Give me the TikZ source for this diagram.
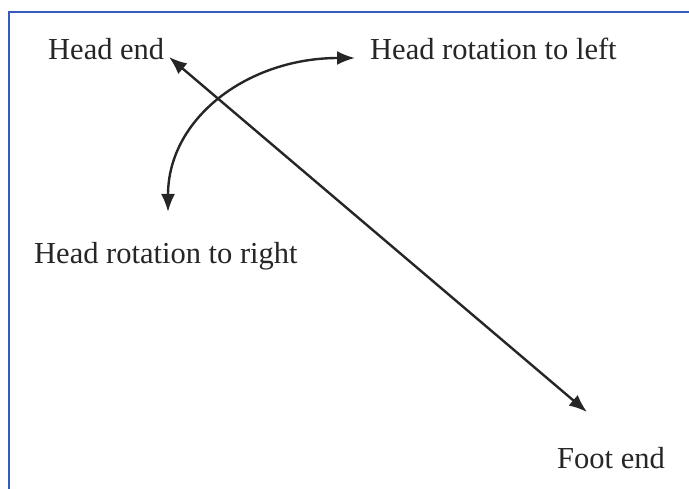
\documentclass[tikz,border=0pt]{standalone}
\usepackage{fontspec}
\setmainfont{Liberation Serif}
\usetikzlibrary{arrows.meta}
\definecolor{frameblue}{RGB}{55,90,190}
\tikzset{
  lbl/.style={anchor=base west, inner sep=0pt, font=\fontsize{30.5}{36}\selectfont, text=black!85},
  arr/.style={line width=2.4pt, black!85, {Latex[length=18pt,width=14pt]}-{Latex[length=18pt,width=14pt]}},
  framel/.style={line width=2pt, frameblue}
}
\begin{document}
\begin{tikzpicture}[x=1pt,y=-1pt]
\useasboundingbox (0,0) rectangle (689,489);
\fill[white] (0,0) rectangle (689,489);
\coordinate (tl) at (9,12);
\coordinate (tr) at (689,12);
\coordinate (bl) at (9,489);
\draw[framel] (tr) -- (tl) -- (bl);
\node[lbl] (headend) at (48,60) {Head end};
\node[lbl] (rotleft) at (370,60) {Head rotation to left};
\node[lbl] (rotright) at (34,264) {Head rotation to right};
\node[lbl] (footend) at (557,468) {Foot end};
\coordinate (he) at (169,57);
\coordinate (fe) at (587,412);
\coordinate (rb) at (168,212);
\coordinate (rt) at (355,58);
\draw[arr] (he) -- (fe);
\draw[arr] (rb) .. controls (168,118) and (248,58) .. (rt);
\end{tikzpicture}
\end{document}
